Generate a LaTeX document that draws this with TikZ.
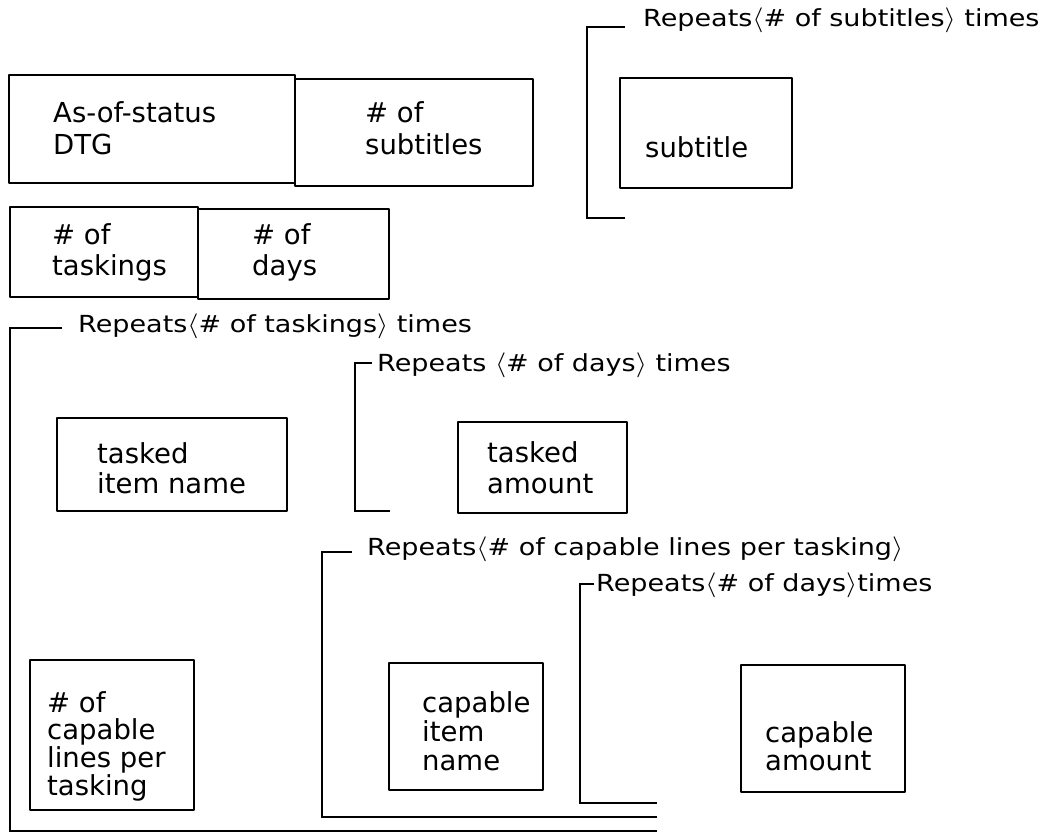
\documentclass[tikz,border=0pt]{standalone}
\usepackage{fontspec}
\usepackage{graphicx}
\setmainfont{DejaVu Sans}
\newcommand\boxlines[2]{\vtop{\baselineskip=#1\relax #2}}
\newcommand\rlabel[1]{\scalebox{1.15}[1]{#1}}
\begin{document}
\begin{tikzpicture}[x=1pt,y=-1pt,
  box/.style={draw, line width=2.8pt, inner sep=0pt, line join=round},
  txt/.style={anchor=base west, inner sep=0pt, font=\fontsize{27.5}{32}\selectfont},
  lbl/.style={anchor=base west, inner sep=0pt, font=\fontsize{23.5}{28}\selectfont},
  brk/.style={line width=2.8pt, line join=miter}]
\useasboundingbox (0,0) rectangle (1051,836);

% top record boxes
\node[box, minimum width=286pt, minimum height=108pt] (asof) at (152,129) {};
\node[box, minimum width=238pt, minimum height=107pt] (nsub) at (414,132.5) {};
\node[box, minimum width=188pt, minimum height=90pt] (ntask) at (104,252) {};
\node[box, minimum width=191pt, minimum height=90pt] (ndays) at (293.5,254) {};
\node[txt] (tasof) at (53,122) {\boxlines{32pt}{\hbox{As-of-status}\hbox{DTG}}};
\node[txt] (tnsub) at (365,122) {\boxlines{32pt}{\hbox{\# of}\hbox{subtitles}}};
\node[txt] (tntask) at (52,244) {\boxlines{31pt}{\hbox{\# of}\hbox{taskings}}};
\node[txt] (tndays) at (252,244) {\boxlines{31pt}{\hbox{\# of}\hbox{days}}};

% subtitles repeat
\draw[brk] (625,27) -- (587,27) -- (587,218) -- (625,218);
\node[lbl] (lsub) at (643,26) {\rlabel{Repeats$\langle$\# of subtitles$\rangle$ times}};
\node[box, minimum width=172pt, minimum height=110pt] (subt) at (706,133) {};
\node[txt] (tsubt) at (645,157) {subtitle};

% taskings repeat
\draw[brk] (62,328) -- (10,328) -- (10,831) -- (657,831);
\node[lbl] (ltask) at (78,332) {\rlabel{Repeats$\langle$\# of taskings$\rangle$ times}};
\node[box, minimum width=230pt, minimum height=93pt] (titem) at (172,464.5) {};
\node[txt] (ttitem) at (97,463) {\boxlines{30pt}{\hbox{tasked}\hbox{item name}}};

% days repeat (tasked)
\draw[brk] (372,363) -- (355,363) -- (355,511) -- (390,511);
\node[lbl] (ldays1) at (377,371) {\rlabel{Repeats $\langle$\# of days$\rangle$ times}};
\node[box, minimum width=169pt, minimum height=91pt] (tamt) at (542.5,467.5) {};
\node[txt] (ttamt) at (487,462) {\boxlines{31pt}{\hbox{tasked}\hbox{amount}}};

% capable lines
\node[box, minimum width=164pt, minimum height=150pt] (ncap) at (112,735) {};
\node[txt] (tncap) at (47,712) {\boxlines{27.7pt}{\hbox{\# of}\hbox{capable}\hbox{lines per}\hbox{tasking}}};

\draw[brk] (352,552) -- (322,552) -- (322,817) -- (657,817);
\node[lbl] (lcap) at (367,555) {\rlabel{Repeats$\langle$\# of capable lines per tasking$\rangle$}};
\node[box, minimum width=154pt, minimum height=127pt] (citem) at (466,726.5) {};
\node[txt] (tcitem) at (422,712) {\boxlines{29pt}{\hbox{capable}\hbox{item}\hbox{name}}};

% days repeat (capable)
\draw[brk] (594,584) -- (580,584) -- (580,803) -- (657,803);
\node[lbl] (ldays2) at (596,591) {\rlabel{Repeats$\langle$\# of days$\rangle$times}};
\node[box, minimum width=164pt, minimum height=127pt] (camt) at (823,728.5) {};
\node[txt] (tcamt) at (765,742) {\boxlines{28pt}{\hbox{capable}\hbox{amount}}};
\end{tikzpicture}
\end{document}
